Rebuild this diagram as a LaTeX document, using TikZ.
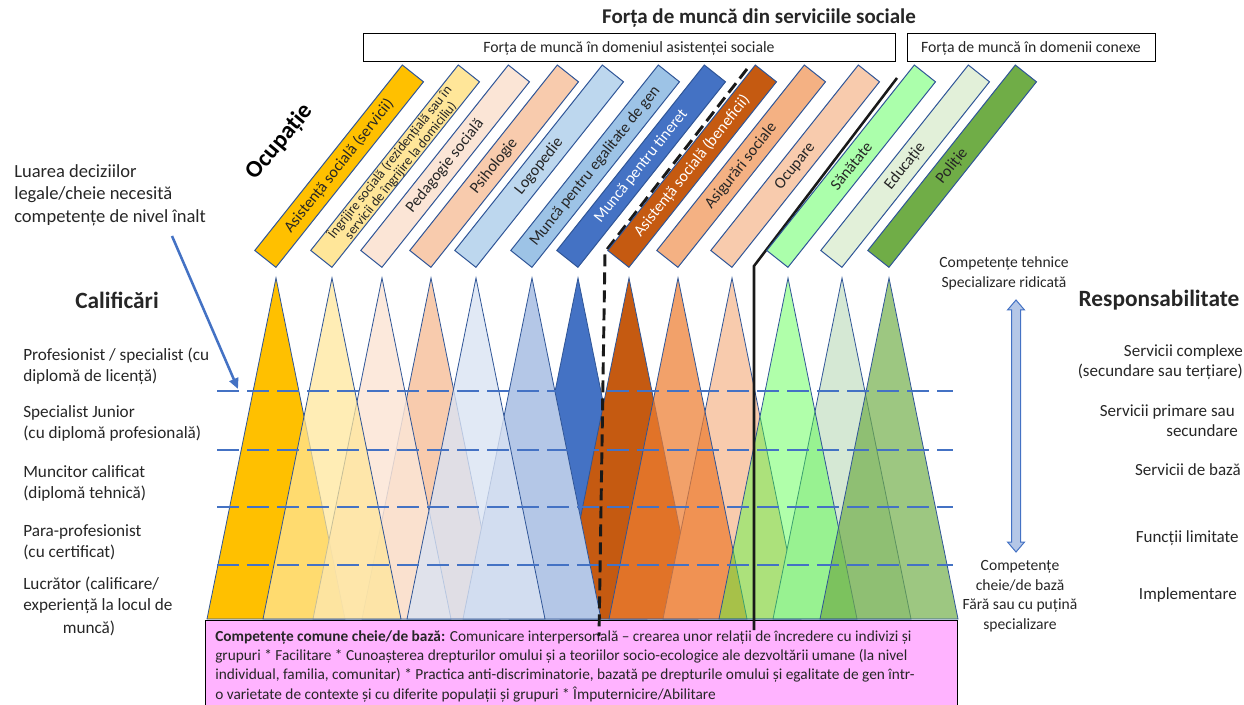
\documentclass[tikz,border=0pt]{standalone}
\usepackage{fontspec}
\setmainfont{Carlito}
\usetikzlibrary{arrows.meta}
\definecolor{txt}{HTML}{262626}
\definecolor{blu}{HTML}{4472C4}
\definecolor{edge}{HTML}{2F5597}
\definecolor{pinkc}{HTML}{FFB3FF}
\definecolor{cA}{HTML}{FFC000}
\definecolor{cB}{HTML}{FFE699}
\definecolor{cC}{HTML}{FBE5D6}
\definecolor{cD}{HTML}{F8CBAD}
\definecolor{cE}{HTML}{BDD7EE}
\definecolor{cF}{HTML}{9DC3E6}
\definecolor{cG}{HTML}{4472C4}
\definecolor{cH}{HTML}{C55A11}
\definecolor{cI}{HTML}{F4B183}
\definecolor{cJ}{HTML}{F8CBAD}
\definecolor{cK}{HTML}{ABFFAB}
\definecolor{cL}{HTML}{E2F0D9}
\definecolor{cM}{HTML}{70AD47}
\definecolor{tE}{HTML}{DAE3F3}
\definecolor{tF}{HTML}{B4C7E7}
\definecolor{tI}{HTML}{ED7D31}
\definecolor{tK}{HTML}{4BFF3D}
\definecolor{tL}{HTML}{D5E8D4}
\definecolor{arrfill}{HTML}{B4C7E7}
\tikzset{
  bar/.style={draw=edge, line width=0.75pt, rotate=51.5, anchor=south west,
    minimum width=177.75pt, minimum height=20.25pt, inner sep=0pt,
    font=\fontsize{12}{13}\selectfont, text=txt},
  tribox/.style={draw=edge, line width=0.6pt},
  lvl/.style={draw=blu, line width=2.2pt, dash pattern=on 16.5pt off 6pt},
  sepdash/.style={draw=black!90, line width=2.2pt, dash pattern=on 9pt off 4.5pt},
  sepline/.style={draw=black!90, line width=1.9pt},
  topbox/.style={draw=black, line width=0.75pt, fill=white},
  lbl/.style={inner sep=0pt, text=txt, font=\fontsize{12.9}{15.75}\selectfont, align=left, anchor=west},
  rlbl/.style={inner sep=0pt, text=txt, font=\fontsize{12.75}{15}\selectfont, align=right, anchor=east},
  comp/.style={inner sep=0pt, text=txt, font=\fontsize{11.7}{14.6}\selectfont, align=center},
  head/.style={inner sep=0pt, text=txt, font=\fontsize{17.5}{21}\selectfont\bfseries},
}
\newcommand\mytri[3]{\draw[tribox, fill=#2, fill opacity=#3] (#1,278) -- ++(-69,341) -- ++(138,0) -- cycle;}
\begin{document}
\begin{tikzpicture}[x=0.75pt,y=-0.75pt]
\useasboundingbox (0,0) rectangle (1244,705);

% triangles (back to front)
\mytri{276}{cA}{1}
\mytri{578}{cG}{1}
\mytri{629}{cH}{1}
\mytri{431}{cD}{1}
\mytri{532}{tF}{1}
\mytri{732}{cJ}{1}
\mytri{842}{tL}{1}
\mytri{382}{cC}{0.85}
\mytri{476}{tE}{0.8}
\mytri{678}{tI}{0.72}
\mytri{788}{tK}{0.44}
\mytri{889}{cM}{0.685}
\mytri{332}{cB}{0.73}

% level lines
\foreach \yy in {391,450,507,565} \draw[lvl] (217,\yy) -- (953,\yy);

% pink box
\draw[draw=black, line width=0.75pt, fill=pinkc] (205,620) rectangle (957,712);
\node[inner sep=0pt, anchor=north west, text=txt, align=left,
  font=\fontsize{11.5}{14.6}\selectfont] (pinktext) at (215,630)
  {\textbf{Competențe comune cheie/de bază:} Comunicare interpersonală – crearea unor relații de încredere cu indivizi și\\
   grupuri * Facilitare * Cunoașterea drepturilor omului și a teoriilor socio-ecologice ale dezvoltării umane (la nivel\\
   individual, familia, comunitar) * Practica anti-discriminatorie, bazată pe drepturile omului și egalitate de gen într-\\
   o varietate de contexte și cu diferite populații și grupuri * Împuternicire/Abilitare};

% separators
\coordinate (dA) at (747,69);
\coordinate (dB) at (605,252);
\coordinate (dC) at (599,636);
\draw[sepdash] (dA) -- (dB) -- (dC);
\coordinate (sA) at (897,78);
\coordinate (sB) at (754,266);
\coordinate (sC) at (754,630);
\draw[sepline] (sA) -- (sB) -- (sC);

% bars
\node[bar, fill=cA] (b1) at (276,268) {Asistență socială (servicii)};
\node[bar, fill=cB, align=center, font=\fontsize{10.2}{10.2}\selectfont] (b2) at (332,268) {Îngrijire socială (rezidențială sau în\\servicii de îngrijire la domiciliu)};
\node[bar, fill=cC] (b3) at (382,268) {Pedagogie socială};
\node[bar, fill=cD] (b4) at (431,268) {Psihologie};
\node[bar, fill=cE] (b5) at (476,268) {Logopedie};
\node[bar, fill=cF] (b6) at (532,268) {Muncă pentru egalitate de gen};
\node[bar, fill=cG, text=white] (b7) at (578,268) {Muncă pentru tineret};
\node[bar, fill=cH, text=white] (b8) at (629,268) {Asistență socială (beneficii)};
\node[bar, fill=cI] (b9) at (678,268) {Asigurări sociale};
\node[bar, fill=cJ] (b10) at (732,268) {Ocupare};
\node[bar, fill=cK] (b11) at (788,268) {Sănătate};
\node[bar, fill=cL] (b12) at (842,268) {Educație};
\node[bar, fill=cM] (b13) at (889,268) {Poliție};

% top
\node[inner sep=0pt, text=txt, font=\fontsize{15.75}{19}\selectfont\bfseries] (title) at (759,18) {Forța de muncă din serviciile sociale};
\draw[topbox] (363,34) rectangle (895,62);
\node[inner sep=0pt, text=txt, font=\fontsize{11.8}{14}\selectfont] (boxA) at (629,48) {Forța de muncă în domeniul asistenței sociale};
\draw[topbox] (907,34) rectangle (1155,62);
\node[inner sep=0pt, text=txt, font=\fontsize{11.8}{14}\selectfont] (boxB) at (1031,48) {Forța de muncă în domenii conexe};

\node[inner sep=0pt, text=black, rotate=50, font=\fontsize{18}{21}\selectfont\bfseries] (ocup) at (280,142) {Ocupație};

% left
\node[lbl, font=\fontsize{13.9}{16.9}\selectfont] (luarea) at (14,195) {Luarea deciziilor\\legale/cheie necesită\\competențe de nivel înalt};
\coordinate (arrS) at (172,236);
\coordinate (arrT) at (238,389);
\draw[blu, line width=1.9pt, -{Triangle[length=8pt,width=7pt]}] (arrS) -- (arrT);
\node[head] (calif) at (117,300) {Calificări};
\node[lbl] (l1) at (23,366.5) {Profesionist / specialist (cu\\diplomă de licență)};
\node[lbl] (l2) at (23,423.5) {Specialist Junior\\(cu diplomă profesională)};
\node[lbl] (l3) at (23,483) {Muncitor calificat\\(diplomă tehnică)};
\node[lbl] (l4) at (23,542) {Para-profesionist\\(cu certificat)};
\node[lbl] (l5) at (23,595.5) {Lucrător (calificare/\\experiență la locul de};
\node[lbl, anchor=center] (l5b) at (89,628) {muncă)};

% right
\node[comp] (ctop) at (1004,273.5) {Competențe tehnice\\Specializare ridicată};
\draw[draw=blu, line width=0.75pt, fill=arrfill]
  (1016,300) -- (1024.5,310) -- (1020.5,310) -- (1020.5,542) -- (1024.5,542)
  -- (1016,552) -- (1007.5,542) -- (1011.5,542) -- (1011.5,310) -- (1007.5,310) -- cycle;
\node[comp] (cbot) at (1020,596) {Competențe\\cheie/de bază\\Fără sau cu puțină\\specializare};
\node[head] (resp) at (1159,300) {Responsabilitate};
\node[rlbl] (r1) at (1243,362) {Servicii complexe\\(secundare sau terțiare)};
\node[rlbl] (r2) at (1238,420.5) {Servicii primare sau\hspace*{2.25pt}\\secundare};
\node[rlbl] (r3) at (1241,470) {Servicii de bază};
\node[rlbl] (r4) at (1239,538) {Funcții limitate};
\node[rlbl] (r5) at (1237,595) {Implementare};
\end{tikzpicture}
\end{document}
